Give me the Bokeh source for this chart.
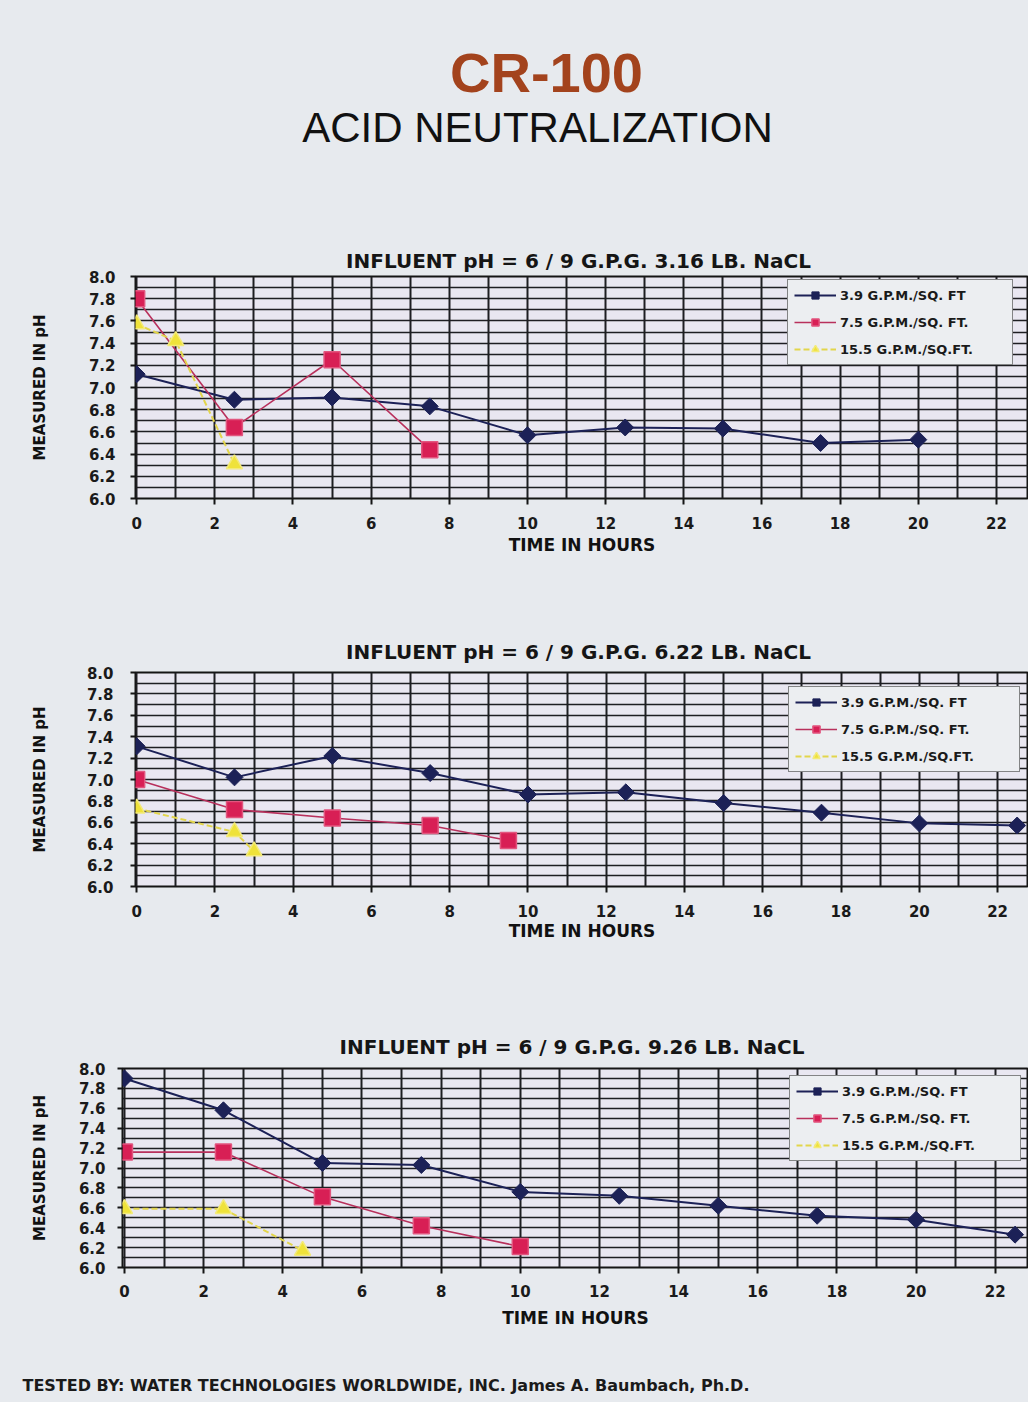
import math
from bokeh.plotting import figure
from bokeh.layouts import column
from bokeh.models import (Range1d, Label, Legend, LegendItem, SingleIntervalTicker,
                          FixedTicker, PrintfTickFormatter)
from bokeh.embed import file_html
from bokeh.resources import INLINE

# ---------------- data ----------------
page_title = "CR-100"
page_subtitle = "ACID NEUTRALIZATION"
footer_text = "TESTED BY:  WATER TECHNOLOGIES WORLDWIDE, INC.  James A. Baumbach, Ph.D."
series_labels = ["3.9 G.P.M./SQ. FT", "7.5 G.P.M./SQ. FT.", "15.5 G.P.M./SQ.FT."]
chart_titles = ["INFLUENT pH = 6 / 9 G.P.G.  3.16 LB. NaCL",
                "INFLUENT pH = 6 / 9 G.P.G.  6.22 LB. NaCL",
                "INFLUENT pH = 6 / 9 G.P.G.  9.26 LB. NaCL"]
x_label = "TIME IN HOURS"
y_label = "MEASURED IN pH"
x_ticks = [0, 2, 4, 6, 8, 10, 12, 14, 16, 18, 20, 22]
y_ticks = [6.0, 6.2, 6.4, 6.6, 6.8, 7.0, 7.2, 7.4, 7.6, 7.8, 8.0]

# chart 1 : 3.16 LB NaCl
c1_blue_x = [0, 2.5, 5, 7.5, 10, 12.5, 15, 17.5, 20]
c1_blue_y = [7.12, 6.89, 6.91, 6.83, 6.57, 6.64, 6.63, 6.50, 6.53]
c1_red_x = [0, 2.5, 5, 7.5]
c1_red_y = [7.80, 6.64, 7.25, 6.44]
c1_yel_x = [0, 1, 2.5]
c1_yel_y = [7.57, 7.42, 6.31]

# chart 2 : 6.22 LB NaCl
c2_blue_x = [0, 2.5, 5, 7.5, 10, 12.5, 15, 17.5, 20, 22.5]
c2_blue_y = [7.31, 7.02, 7.22, 7.06, 6.86, 6.88, 6.78, 6.69, 6.59, 6.57]
c2_red_x = [0, 2.5, 5, 7.5, 9.5]
c2_red_y = [7.00, 6.72, 6.64, 6.57, 6.43]
c2_yel_x = [0, 2.5, 3]
c2_yel_y = [6.73, 6.51, 6.33]

# chart 3 : 9.26 LB NaCl
c3_blue_x = [0, 2.5, 5, 7.5, 10, 12.5, 15, 17.5, 20, 22.5]
c3_blue_y = [7.90, 7.58, 7.05, 7.03, 6.76, 6.72, 6.62, 6.52, 6.48, 6.33]
c3_red_x = [0, 2.5, 5, 7.5, 10]
c3_red_y = [7.16, 7.16, 6.71, 6.42, 6.21]
c3_yel_x = [0, 2.5, 4.5]
c3_yel_y = [6.59, 6.59, 6.17]

# ---------------- style ----------------
W = 1028
FRAME_LEFT = 122          # shared (aligned) left border of every figure
SHIFT = 13                # charts 1 and 2 sit 13px further right
PAGE_BG = "#e7eaee"
PLOT_BG = "#e9e7f1"
GRID = "#1e1e22"
NAVY = "#1c2157"
RED = "#d81f55"
RED_LINE = "#b8305c"
YEL = "#efe23a"
YEL_LINE = "#e2d54c"
FONT = "DejaVu Sans"


def blank_fig(height):
    p = figure(width=W, height=height, x_range=Range1d(0, 1), y_range=Range1d(0, 1),
               x_axis_type=None, y_axis_type=None, output_backend="svg",
               toolbar_location=None, min_border=0, min_border_left=FRAME_LEFT,
               outline_line_color=None,
               background_fill_color=PAGE_BG, border_fill_color=PAGE_BG)
    p.xgrid.visible = False
    p.ygrid.visible = False
    return p


def header_fig():
    p = blank_fig(230)
    p.add_layout(Label(x=546 - FRAME_LEFT, y=230 - 72, x_units="screen", y_units="screen",
                       text=page_title, text_align="center", text_baseline="middle",
                       text_font="Liberation Sans", text_font_size="56px",
                       text_font_style="bold", text_color="#a3431d"))
    p.add_layout(Label(x=537 - FRAME_LEFT, y=230 - 127, x_units="screen", y_units="screen",
                       text=page_subtitle, text_align="center", text_baseline="middle",
                       text_font="Liberation Sans", text_font_size="42px",
                       text_color="#111111"))
    return p


def footer_fig():
    p = blank_fig(62)
    p.width = W + FRAME_LEFT
    p.margin = (0, 0, 0, -FRAME_LEFT)
    p.add_layout(Label(x=22, y=62 - 45, x_units="screen", y_units="screen",
                       text=footer_text, text_align="left", text_baseline="middle",
                       text_font=FONT, text_font_size="16px", text_font_style="bold",
                       text_color="#1a1a1a"))
    return p


def chart(title, bx, by, rx, ry, yx, yy, x_start, x_end, height, b_top, b_bottom,
          title_standoff, y_tick_standoff, y_label_standoff, x_tick_standoff,
          x_label_standoff, legend_loc, label_width, shift):
    p = figure(width=W - shift, height=height, x_range=Range1d(x_start, x_end),
               y_range=Range1d(6.0, 8.0),
               output_backend="svg", toolbar_location=None, title=title,
               min_border_left=FRAME_LEFT, min_border_right=0, min_border_top=b_top,
               min_border_bottom=b_bottom, background_fill_color=PLOT_BG,
               border_fill_color=PAGE_BG, outline_line_color="#151515", outline_line_width=2)
    if shift:
        p.margin = (0, 0, 0, shift)
    p.title.align = "center"
    p.title.text_font = FONT
    p.title.text_font_size = "20px"
    p.title.text_font_style = "bold"
    p.title.text_color = "#151515"
    p.title.standoff = title_standoff

    # grids
    p.xgrid.ticker = SingleIntervalTicker(interval=1)
    p.xgrid.grid_line_color = GRID
    p.xgrid.grid_line_width = 2
    p.ygrid.ticker = SingleIntervalTicker(interval=0.1)
    p.ygrid.grid_line_color = GRID
    p.ygrid.grid_line_width = 1.5

    # axes
    for ax in (p.xaxis[0], p.yaxis[0]):
        ax.axis_line_color = None
        ax.major_tick_line_color = "#151515"
        ax.major_tick_line_width = 2
        ax.major_tick_in = 0
        ax.minor_tick_line_color = None
        ax.major_label_text_font = FONT
        ax.major_label_text_font_size = "15px"
        ax.major_label_text_font_style = "bold"
        ax.major_label_text_color = "#1a1a1a"
        ax.axis_label_text_font = FONT
        ax.axis_label_text_font_style = "bold"
        ax.axis_label_text_color = "#111111"
    p.xaxis.ticker = FixedTicker(ticks=x_ticks)
    p.xaxis.major_tick_out = 6
    p.xaxis.major_label_standoff = x_tick_standoff
    p.xaxis.axis_label = x_label
    p.xaxis.axis_label_text_font_size = "17px"
    p.xaxis.axis_label_standoff = x_label_standoff

    p.yaxis.ticker = FixedTicker(ticks=y_ticks)
    p.yaxis.formatter = PrintfTickFormatter(format="%.1f")
    p.yaxis.major_tick_out = 5
    p.yaxis.major_label_standoff = y_tick_standoff
    p.yaxis.axis_label = y_label
    p.yaxis.axis_label_text_font_size = "15px"
    p.yaxis.axis_label_standoff = y_label_standoff

    # series
    bl = p.line(bx, by, line_color=NAVY, line_width=2)
    bs = p.scatter(bx, by, marker="square", angle=math.pi / 4, size=12,
                   fill_color=NAVY, line_color=NAVY)
    rl = p.line(rx, ry, line_color=RED_LINE, line_width=1.6)
    rs = p.scatter(rx, ry, marker="square", size=16, fill_color=RED, line_color="#e2567f",
                   line_width=1.5)
    yl = p.line(yx, yy, line_color=YEL_LINE, line_width=2, line_dash="6 3")
    ys = p.scatter(yx, yy, marker="triangle", size=16, fill_color=YEL, line_color="#f3ea78",
                   line_width=1.5)

    legend = Legend(items=[LegendItem(label=series_labels[0], renderers=[bl, bs]),
                           LegendItem(label=series_labels[1], renderers=[rl, rs]),
                           LegendItem(label=series_labels[2], renderers=[yl, ys])],
                    location=legend_loc, margin=0, padding=6, spacing=9,
                    glyph_width=42, glyph_height=18, label_height=18, label_width=label_width,
                    label_standoff=4, label_text_font=FONT, label_text_font_size="13px",
                    label_text_font_style="bold", label_text_color="#1a1a1a",
                    border_line_color="#1a1a1a", border_line_width=1.5,
                    background_fill_color="#eceef1", background_fill_alpha=1.0)
    p.add_layout(legend)
    return p


p1 = chart(chart_titles[0], c1_blue_x, c1_blue_y, c1_red_x, c1_red_y, c1_yel_x, c1_yel_y,
           -0.03, 22.82, 335, 46, 67, 8, 15, 37, 12, 3, (652, 133), 166, SHIFT)
p2 = chart(chart_titles[1], c2_blue_x, c2_blue_y, c2_red_x, c2_red_y, c2_yel_x, c2_yel_y,
           -0.03, 22.79, 385, 107, 64, 18, 17, 35, 12, 1, (653, 114), 172, SHIFT)
p3 = chart(chart_titles[2], c3_blue_x, c3_blue_y, c3_red_x, c3_red_y, c3_yel_x, c3_yel_y,
           -0.05, 22.84, 390, 118, 73, 19, 12, 27, 11, 8, (667, 106), 172, 0)

layout = column(header_fig(), p1, p2, p3, footer_fig(), spacing=0,
                styles={"background-color": PAGE_BG})

open("out.html", "w").write(file_html(layout, INLINE))
